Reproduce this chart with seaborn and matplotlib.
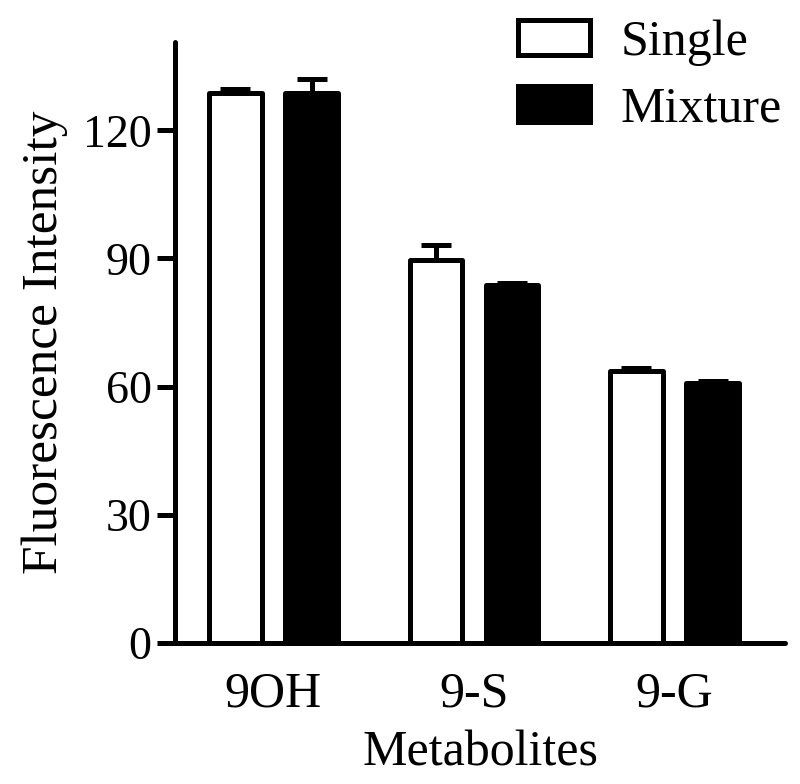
import numpy as np
import pandas as pd
import matplotlib
matplotlib.use("Agg")
import matplotlib.pyplot as plt
import seaborn as sns

# values
metabolites = ["9OH", "9-S", "9-G"]
single_mean = [128.7, 89.6, 63.6]
single_err = [1.0, 3.5, 0.7]
mixture_mean = [128.8, 83.8, 60.9]
mixture_err = [3.1, 0.4, 0.4]
groups = ["Single", "Mixture"]
y_ticks = [0, 30, 60, 90, 120]

df = pd.DataFrame({
    "Metabolite": metabolites * 2,
    "Group": ["Single"] * 3 + ["Mixture"] * 3,
    "Value": single_mean + mixture_mean,
})
errs = {"Single": single_err, "Mixture": mixture_err}

sns.set_style("ticks")
plt.rcParams["font.family"] = ["Liberation Serif", "DejaVu Serif"]
plt.rcParams["text.color"] = "black"
plt.rcParams["axes.labelcolor"] = "black"
plt.rcParams["xtick.color"] = "black"
plt.rcParams["ytick.color"] = "black"

fig = plt.figure(figsize=(8, 7.84), dpi=100)
ax = fig.add_axes([0.219, 0.18, 0.762, 0.766])

LW = 3.6
sns.barplot(data=df, x="Metabolite", y="Value", hue="Group",
            order=metabolites, hue_order=groups,
            palette={"Single": "white", "Mixture": "black"},
            edgecolor="black", linewidth=LW, width=0.76, gap=0.31,
            errorbar=None, ax=ax)

# one-sided (upper) error bars on top of each bar
for cont, g in zip(ax.containers, groups):
    for bar, e in zip(cont, errs[g]):
        bar.set_joinstyle("round")
        x = bar.get_x() + bar.get_width() / 2
        top = bar.get_height()
        ax.errorbar(x, top, yerr=[[0], [e]], fmt="none", ecolor="black",
                    elinewidth=LW, capsize=10.5, capthick=LW, zorder=1)

ax.set_ylim(0, 140.6)
ax.set_xlim(-0.49, 2.55)
ax.set_yticks(y_ticks)
ax.tick_params(axis="y", labelsize=33, length=13, width=LW, pad=4)
ax.tick_params(axis="x", labelsize=36, length=0, pad=20)
ax.set_xlabel("Metabolites", fontsize=36, labelpad=9)
ax.set_ylabel("Fluorescence Intensity", fontsize=37, labelpad=11)

for side in ["top", "right"]:
    ax.spines[side].set_visible(False)
for side in ["left", "bottom"]:
    ax.spines[side].set_linewidth(LW)
    ax.spines[side].set_color("black")
    ax.spines[side].set_capstyle("round")

handles, labels = ax.get_legend_handles_labels()
ax.legend(handles, labels, loc="upper right", bbox_to_anchor=(1.045, 1.088),
          frameon=False, fontsize=36, handlelength=1.44, handleheight=0.72,
          handletextpad=0.62, labelspacing=0.4, borderpad=0.1)

fig.savefig("out.png", dpi=100)
